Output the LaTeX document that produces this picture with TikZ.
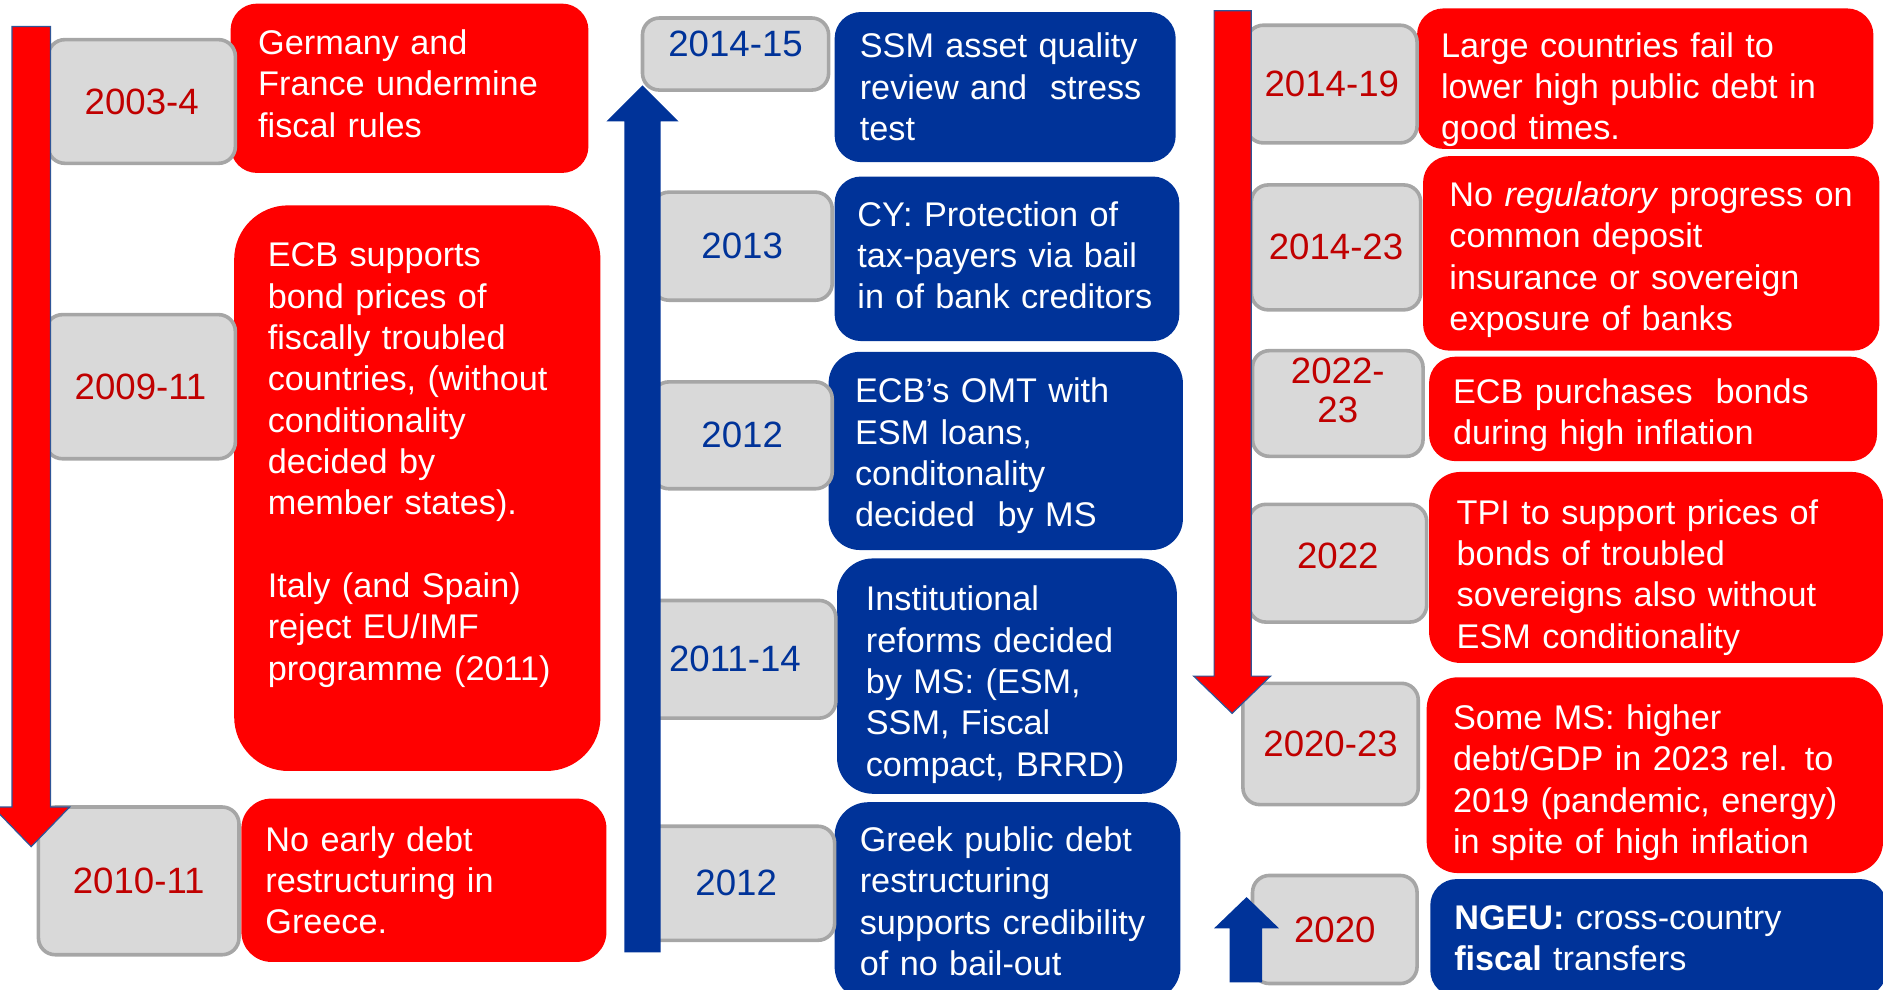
\documentclass[tikz,border=0pt]{standalone}
\usepackage{fontspec}
\setmainfont{Liberation Sans}
\usepackage{tikz}

\definecolor{evred}{HTML}{FF0000}
\definecolor{eublue}{HTML}{003399}
\definecolor{yearred}{HTML}{C00000}
\definecolor{yeargray}{HTML}{D9D9D9}
\definecolor{boxgray}{HTML}{A6A6A6}
\definecolor{arrowblue}{HTML}{2F5597}

\newcommand{\evfont}{\fontsize{28.5bp}{34.4bp}\selectfont}
\newcommand{\yrfont}{\fontsize{30.5bp}{33bp}\selectfont}

\begin{document}
\begin{tikzpicture}[x=1bp, y=-1bp,
    event/.style={rectangle, rounded corners=22bp, anchor=north west, inner xsep=20bp, inner ysep=0pt, outer sep=0pt, align=left, text=white, font=\evfont},
    badEvent/.style={event, fill=evred},
    goodEvent/.style={event, fill=eublue},
    yearBox/.style={rectangle, draw=boxgray, line width=3bp, fill=yeargray, rounded corners=14bp, anchor=north west, inner sep=0pt, outer sep=0pt, align=center, font=\yrfont},
    redYear/.style={yearBox, text=yearred},
    blueYear/.style={yearBox, text=eublue},
    downArrow/.style={fill=evred, draw=arrowblue, line width=1bp},
    upArrow/.style={fill=eublue}]

  \useasboundingbox (0,0) rectangle (1568,824);

  % left column: 2003 - 2011
  \node[badEvent, inner xsep=23bp, text width=252bp, minimum height=141bp] (germany) at (192,3) {Germany and\\France undermine\\fiscal rules\\[-26.4bp]\mbox{}};
  \node[badEvent, rounded corners=45bp, inner xsep=28bp, text width=249bp, minimum height=471bp] (ecbsupport) at (195,171)
    {ECB supports\\bond prices of\\fiscally troubled\\countries, (without\\conditionality\\decided by\\member states).\\[34.4bp]Italy (and Spain)\\reject EU/IMF\\programme (2011)\\[10bp]\mbox{}};
  \node[badEvent, rounded corners=25bp, text width=264bp, minimum height=136bp] (noearly) at (201,665) {No early debt\\restructuring in\\Greece.};

  \node[redYear, minimum width=156bp, minimum height=103bp] (y2003) at (40,33) {2003-4};
  \node[redYear, minimum width=158bp, minimum height=120bp] (y2009) at (38,262) {2009-11};
  \node[redYear, minimum width=167bp, minimum height=123bp] (y2010) at (32,672) {2010-11};

  \filldraw[downArrow] (10,22) -- (42,22) -- (42,672) -- (58,672) -- (26,705) -- (-6,672) -- (10,672) -- cycle;

  % middle column: 2011 - 2015
  \node[goodEvent, inner xsep=21bp, text width=242bp, minimum height=125bp] (ssm) at (695,10) {SSM asset quality\\review and~ stress\\test};
  \node[goodEvent, inner xsep=19bp, text width=249bp, minimum height=137bp] (cyprus) at (695,147) {CY: Protection of\\tax-payers via bail\\in of bank creditors\\[-28bp]\mbox{}};
  \node[goodEvent, rounded corners=26bp, inner xsep=22bp, text width=251bp, text height=29bp, minimum height=165bp] (omt) at (690,293) {ECB’s OMT with\\ESM loans,\\conditonality\\decided~ by MS};
  \node[goodEvent, rounded corners=30bp, inner xsep=24bp, text width=235bp, text height=35bp, minimum height=196bp] (reforms) at (697,465) {Institutional\\reforms decided\\by MS: (ESM,\\SSM, Fiscal\\compact, BRRD)};
  \node[goodEvent, rounded corners=28bp, inner xsep=21bp, text width=246bp, minimum height=165bp] (greek) at (695,668) {Greek public debt\\restructuring\\supports credibility\\of no bail-out};

  \node[blueYear, minimum width=155bp, minimum height=60bp, text depth=18bp] (y2014a) at (535,15) {2014-15};
  \node[blueYear, minimum width=150bp, minimum height=90bp] (y2013) at (543,160) {2013};
  \node[blueYear, minimum width=150bp, minimum height=89bp] (y2012a) at (543,318) {2012};
  \node[blueYear, minimum width=168bp, minimum height=98bp] (y2011) at (528,500) {2011-14};
  \node[blueYear, minimum width=164bp, minimum height=95bp] (y2012b) at (531,688) {2012};

  \fill[upArrow] (520,793) -- (520,101) -- (505,101) -- (535,71) -- (565,101) -- (550,101) -- (550,793) -- cycle;

  % right column: 2014 - 2023
  \node[badEvent, text width=340bp, text height=39bp, minimum height=117bp] (largedebt) at (1180,7) {Large countries fail to\\lower high public debt in\\good times.};
  \node[badEvent, inner xsep=22bp, text width=336bp, text height=31bp, minimum height=162bp] (noreg) at (1185,130) {No \textit{regulatory} progress on\\common deposit\\insurance or sovereign\\exposure of banks};
  \node[badEvent, text width=333bp, text height=31bp, minimum height=87bp] (purchases) at (1190,297) {ECB purchases~ bonds\\during high inflation};
  \node[badEvent, rounded corners=26bp, inner xsep=23bp, text width=332bp, text height=37bp, minimum height=159bp] (tpi) at (1190,393) {TPI to support prices of\\bonds of troubled\\sovereigns also without\\ESM conditionality};
  \node[badEvent, rounded corners=26bp, inner xsep=22bp, text width=336bp, text height=33bp, minimum height=163bp] (highdebt) at (1188,564) {Some MS: higher\\debt/GDP in 2023 rel. to\\2019 (pandemic, energy)\\in spite of high inflation};
  \node[goodEvent, text width=340bp, minimum height=98bp] (ngeu) at (1191,732) {\textbf{NGEU:} cross-country\\\textbf{fiscal} transfers};

  \node[redYear, minimum width=142bp, minimum height=98bp] (y2014b) at (1038,21) {2014-19};
  \node[redYear, minimum width=141bp, minimum height=104bp] (y2014c) at (1042,154) {2014-23};
  \node[redYear, minimum width=142bp, minimum height=88bp, text depth=22bp] (y2022a) at (1043,292) {2022-\\23};
  \node[redYear, minimum width=148bp, minimum height=98bp, text depth=12bp] (y2022b) at (1040,420) {2022};
  \node[redYear, minimum width=146bp, minimum height=101bp] (y2020a) at (1035,569) {2020-23};
  \node[redYear, minimum width=137bp, minimum height=90bp] (y2020b) at (1043,729) {2020};

  \filldraw[downArrow] (1011,9) -- (1042,9) -- (1042,563) -- (1058,563) -- (1026,594) -- (994,563) -- (1011,563) -- cycle;
  \fill[upArrow] (1024,818) -- (1024,773) -- (1011,773) -- (1038,747) -- (1065,773) -- (1051,773) -- (1051,818) -- cycle;

\end{tikzpicture}
\end{document}
